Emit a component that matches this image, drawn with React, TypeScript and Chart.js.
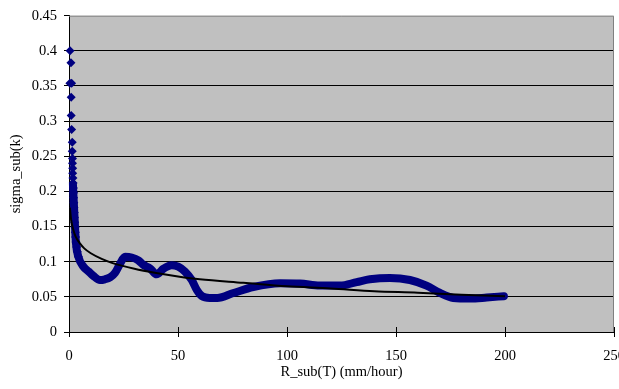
import React, { useEffect, useRef } from 'react';
import { Chart, registerables } from 'chart.js';

Chart.register(...registerables);

// ---- data ----
const xTickValues = [0, 50, 100, 150, 200, 250];
const yTickValues = [0, 0.05, 0.1, 0.15, 0.2, 0.25, 0.3, 0.35, 0.4, 0.45];

// sparse diamonds near R = 0
const spikeX = [0.5, 0.9, 0.4, 1.2, 1.0, 1.0, 1.2, 1.5, 1.5, 1.6, 1.6, 1.7, 1.7, 1.8, 1.9, 2.0, 2.1, 2.1, 2.2, 2.3, 2.4, 2.5, 2.6, 2.8, 2.9, 3.0, 3.2, 3.5, 3.8, 4.3];
const spikeY = [0.4, 0.383, 0.354, 0.354, 0.334, 0.308, 0.288, 0.27, 0.257, 0.247, 0.24, 0.233, 0.226, 0.219, 0.212, 0.205, 0.198, 0.191, 0.184, 0.177, 0.17, 0.163, 0.156, 0.149, 0.142, 0.135, 0.128, 0.121, 0.114, 0.107];

// dense band of points
const bandX = [1.8, 2.3, 2.75, 3.2, 4.3, 6.6, 9, 11.1, 14.2, 16.5, 19, 21.1, 23.4, 25.7, 28.8, 31.8, 34.1, 37.2, 40.2, 43.3, 47.1, 50.1, 53.2, 56.3, 58.6, 61, 64.5, 68, 75.4, 84.5, 96.8, 106, 115, 124.3, 132, 138, 147.2, 156.4, 164, 170.2, 176.3, 184, 191.6, 199.5];
const bandY = [0.21, 0.178, 0.15, 0.126, 0.107, 0.093, 0.086, 0.08, 0.074, 0.075, 0.078, 0.084, 0.097, 0.107, 0.106, 0.102, 0.0955, 0.0905, 0.082, 0.09, 0.095, 0.093, 0.086, 0.074, 0.06, 0.051, 0.0485, 0.0485, 0.0555, 0.064, 0.0695, 0.069, 0.066, 0.066, 0.071, 0.075, 0.077, 0.074, 0.066, 0.0555, 0.0485, 0.0475, 0.049, 0.051];

// trend line
const trendX = [0.4, 1, 2, 3, 5, 7, 10, 15, 20, 30, 40, 50, 60, 80, 100, 120, 140, 160, 180, 200];
const trendY = [0.177, 0.159, 0.145, 0.136, 0.126, 0.119, 0.112, 0.104, 0.098, 0.09, 0.084, 0.079, 0.075, 0.07, 0.065, 0.062, 0.058, 0.056, 0.053, 0.051];

const xTitle = 'R_sub(T) (mm/hour)';
const yTitle = 'sigma_sub(k)';

const FONT = '"Liberation Serif", "Times New Roman", serif';
const NAVY = '#000080';

const pts = (xs: number[], ys: number[]) => xs.map((x, i) => ({ x, y: ys[i] }));

const plotBg = {
  id: 'plotBg',
  beforeDraw(chart: any) {
    const { ctx, chartArea: a } = chart;
    ctx.save();
    ctx.fillStyle = '#C0C0C0';
    ctx.fillRect(a.left, a.top, a.right - a.left, a.bottom - a.top);
    ctx.restore();
  },
  beforeDatasetsDraw(chart: any) {
    const { ctx, chartArea: a, scales } = chart;
    ctx.save();
    ctx.strokeStyle = '#808080';
    ctx.lineWidth = 1;
    ctx.beginPath();
    ctx.moveTo(a.left, a.top + 0.5);
    ctx.lineTo(a.right - 0.5, a.top + 0.5);
    ctx.lineTo(a.right - 0.5, a.bottom);
    ctx.stroke();
    // inner half of the crossing x ticks
    ctx.strokeStyle = '#000';
    ctx.beginPath();
    xTickValues.forEach((v) => {
      const px = Math.round(scales.x.getPixelForValue(v)) + 0.5;
      ctx.moveTo(px, a.bottom - 5);
      ctx.lineTo(px, a.bottom);
    });
    ctx.stroke();
    ctx.restore();
  },
};

export default function App() {
  const ref = useRef<HTMLCanvasElement>(null);

  useEffect(() => {
    if (!ref.current) return;
    const chart = new Chart(ref.current, {
      type: 'scatter',
      data: {
        datasets: [
          {
            label: 'trend',
            data: pts(trendX, trendY),
            showLine: true,
            borderColor: '#000',
            borderWidth: 2,
            pointRadius: 0,
            cubicInterpolationMode: 'monotone',
            order: 0,
          },
          {
            label: 'spike',
            data: pts(spikeX, spikeY),
            showLine: false,
            pointStyle: 'rectRot',
            pointRadius: 4.5,
            backgroundColor: NAVY,
            borderColor: NAVY,
            borderWidth: 0,
            clip: false,
            order: 2,
          },
          {
            label: 'band',
            data: pts(bandX, bandY),
            showLine: true,
            borderColor: NAVY,
            borderWidth: 8,
            borderCapStyle: 'round',
            borderJoinStyle: 'round',
            pointRadius: 0,
            cubicInterpolationMode: 'monotone',
            clip: false,
            order: 1,
          },
        ],
      } as any,
      options: {
        animation: false,
        responsive: false,
        layout: { padding: { top: 15, right: 26, left: 0, bottom: 0 } },
        plugins: { legend: { display: false }, tooltip: { enabled: false } },
        scales: {
          x: {
            type: 'linear',
            min: 0,
            max: 250,
            afterBuildTicks: (s: any) => {
              s.ticks = xTickValues.map((v) => ({ value: v }));
            },
            afterFit: (s: any) => {
              s.height = 57;
            },
            ticks: {
              color: '#000',
              font: { family: FONT, size: 14.5 },
              padding: 10,
              maxRotation: 0,
              callback: (v: any) => String(v),
            },
            grid: {
              drawOnChartArea: false,
              drawTicks: true,
              tickLength: 5,
              tickColor: '#000',
            },
            border: { display: true, color: '#000', width: 1 },
            title: {
              display: true,
              text: xTitle,
              color: '#000',
              font: { family: FONT, size: 14.5 },
              padding: { top: 0, bottom: 8 },
            },
          },
          y: {
            type: 'linear',
            min: 0,
            max: 0.45,
            afterBuildTicks: (s: any) => {
              s.ticks = yTickValues.map((v) => ({ value: v }));
            },
            afterFit: (s: any) => {
              s.width = 69;
            },
            ticks: {
              color: '#000',
              font: { family: FONT, size: 14.5 },
              padding: 7,
              callback: (v: any) => String(Math.round(Number(v) * 100) / 100),
            },
            grid: {
              color: (c: any) =>
                c.tick && Math.abs(c.tick.value - 0.45) < 1e-9 ? 'rgba(0,0,0,0)' : '#000',
              lineWidth: 1,
              drawTicks: true,
              tickLength: 5,
              tickColor: '#000',
            },
            border: { display: true, color: '#000', width: 1 },
            title: {
              display: true,
              text: yTitle,
              color: '#000',
              font: { family: FONT, size: 14.5 },
              padding: { top: 7, bottom: 0 },
            },
          },
        },
      } as any,
      plugins: [plotBg],
    });
    return () => chart.destroy();
  }, []);

  return (
    <div
      style={{
        position: 'fixed',
        left: 0,
        top: 0,
        width: 619,
        height: 389,
        overflow: 'hidden',
        background: '#fff',
      }}
    >
      <canvas ref={ref} width={640} height={389} style={{ display: 'block' }} />
    </div>
  );
}
